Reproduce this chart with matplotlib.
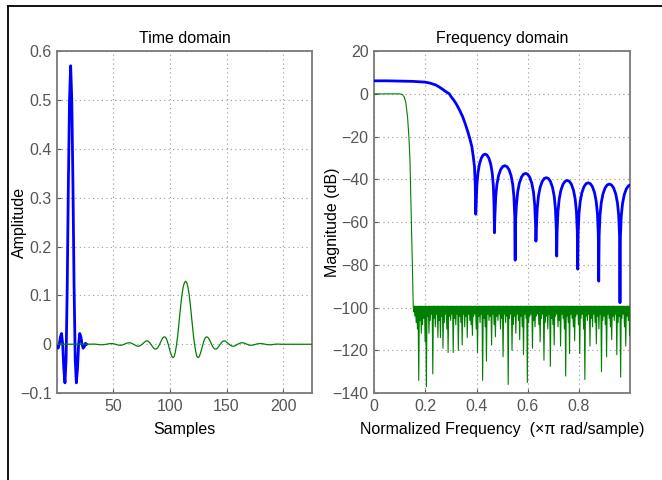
import numpy as np
import matplotlib
matplotlib.use('Agg')
import matplotlib.pyplot as plt
from matplotlib.lines import Line2D

plt.rcParams['font.family'] = ['Liberation Sans', 'DejaVu Sans']

# time domain, filter 1 (blue), samples 1..27
blue_t = [-0.005, -0.008, 0.0, 0.015, 0.022, 0.0, -0.05, -0.079, -0.03, 0.12,
          0.33, 0.50, 0.57, 0.50, 0.33, 0.12, -0.03, -0.079, -0.05, 0.0,
          0.022, 0.015, 0.0, -0.008, -0.005, 0.002, 0.0]

# time domain, filter 2 (green), samples 1..225
green_t = [0.0] * 30 + [
    0.0, 0.0002, 0.0004, 0.0004, 0.0002, 0.0, -0.0004, -0.0008, -0.001, -0.001,
    -0.001, -0.0008, -0.0004, 0.0, 0.0005, 0.001, 0.0013, 0.0015, 0.0015, 0.0013,
    0.0008, 0.0002, -0.0005, -0.0012, -0.0017, -0.002, -0.002, -0.0017, -0.001, 0.0,
    0.001, 0.002, 0.0027, 0.003, 0.003, 0.0025, 0.0015, 0.0003, -0.001, -0.0025,
    -0.0035, -0.004, -0.0038, -0.003, -0.0015, 0.0003, 0.0025, 0.0045, 0.0065, 0.007,
    0.0065, 0.0045, 0.0015, -0.0015, -0.005, -0.008, -0.0098, -0.0098, -0.0085, -0.0055,
    -0.001, 0.004, 0.009, 0.013, 0.015, 0.0148, 0.012, 0.006, -0.002, -0.011,
    -0.019, -0.025, -0.0275, -0.025, -0.016, -0.002, 0.016, 0.038, 0.062, 0.085,
    0.104, 0.118, 0.126, 0.129, 0.126, 0.118, 0.104, 0.085, 0.062, 0.038,
    0.016, -0.002, -0.016, -0.025, -0.0275, -0.025, -0.019, -0.011, -0.002, 0.006,
    0.012, 0.0148, 0.015, 0.013, 0.009, 0.004, -0.001, -0.0055, -0.0085, -0.0098,
    -0.0098, -0.008, -0.005, -0.0015, 0.0015, 0.0045, 0.0065, 0.007, 0.0065, 0.0045,
    0.0025, 0.0003, -0.0015, -0.003, -0.0038, -0.004, -0.0035, -0.0025, -0.001, 0.0003,
    0.0015, 0.0025, 0.003, 0.003, 0.0027, 0.002, 0.001, 0.0, -0.001, -0.0017,
    -0.002, -0.002, -0.0017, -0.0012, -0.0005, 0.0002, 0.0008, 0.0013, 0.0015, 0.0015,
    0.0013, 0.001, 0.0005, 0.0, -0.0004, -0.0008, -0.001, -0.001, -0.001, -0.0008,
    -0.0004, 0.0, 0.0002, 0.0004, 0.0004, 0.0002] + [0.0] * 30

# frequency domain, filter 1 (blue): normalized frequency / dB keypoints
blue_f = [0.0, 0.05, 0.1, 0.15, 0.199, 0.22, 0.242, 0.26, 0.281, 0.294, 0.30, 0.31, 0.32, 0.333, 0.346,
          0.356, 0.366, 0.374, 0.382, 0.387, 0.392, 0.395, 0.397,
          0.3985, 0.4014, 0.4058, 0.4116, 0.4189, 0.4262, 0.4335, 0.4408, 0.4481, 0.4554, 0.4612, 0.4656, 0.4685, 0.470,
          0.4716, 0.4749, 0.4797, 0.4862, 0.4943, 0.5024, 0.5105, 0.5186, 0.5267, 0.5348, 0.5413, 0.5461, 0.5494, 0.551,
          0.5516, 0.5559, 0.5607, 0.5672, 0.5753, 0.5834, 0.5915, 0.5996, 0.6077, 0.6158, 0.6223, 0.6271, 0.6304, 0.632,
          0.6336, 0.6369, 0.6417, 0.6482, 0.6563, 0.6644, 0.6725, 0.6806, 0.6887, 0.6968, 0.7033, 0.7081, 0.7114, 0.713,
          0.7146, 0.7179, 0.7228, 0.7294, 0.7376, 0.7458, 0.754, 0.7622, 0.7704, 0.7786, 0.7852, 0.7901, 0.7934, 0.795,
          0.7966, 0.7999, 0.8048, 0.8114, 0.8196, 0.8278, 0.836, 0.8442, 0.8524, 0.8606, 0.8672, 0.8721, 0.8754, 0.877,
          0.8787, 0.882, 0.887, 0.8936, 0.9019, 0.9102, 0.9185, 0.9268, 0.9351, 0.9434, 0.95, 0.955, 0.9583, 0.960,
          0.9617, 0.965, 0.970, 0.9766, 0.9849, 0.9932, 1.0]
blue_db = [6.1, 6.1, 6.0, 5.85, 5.5, 5.0, 4.1, 2.8, 1.0, 0.0, -1.2, -2.7, -4.5, -7.4, -10.7,
           -14.0, -17.7, -21.0, -24.8, -29.0, -34.0, -42.0, -56.3,
           -52.2, -42.8, -36.9, -32.8, -30.0, -28.6, -28.2, -28.6, -30.0, -32.8, -36.9, -42.8, -52.2, -65.0,
           -57.6, -48.2, -42.3, -38.2, -35.4, -34.0, -33.6, -34.0, -35.4, -38.2, -42.3, -48.2, -57.6, -77.8,
           -61.2, -51.8, -45.9, -41.8, -39.0, -37.6, -37.2, -37.6, -39.0, -41.8, -45.9, -51.8, -61.2, -68.9,
           -63.2, -53.8, -47.9, -43.8, -41.0, -39.6, -39.2, -39.6, -41.0, -43.8, -47.9, -53.8, -63.2, -75.9,
           -64.5, -55.1, -49.2, -45.1, -42.3, -40.9, -40.5, -40.9, -42.3, -45.1, -49.2, -55.1, -64.5, -82.0,
           -65.6, -56.2, -50.3, -46.2, -43.4, -42.0, -41.6, -42.0, -43.4, -46.2, -50.3, -56.2, -65.6, -87.6,
           -66.2, -56.8, -50.9, -46.8, -44.0, -42.6, -42.2, -42.6, -44.0, -46.8, -50.9, -56.8, -66.2, -97.7,
           -66.6, -57.2, -51.3, -47.2, -44.4, -43.0, -42.7]

# frequency domain, filter 2 (green): passband and transition keypoints
green_pass_f = [0.0, 0.05, 0.10, 0.111, 0.118, 0.124, 0.131, 0.136, 0.14, 0.143, 0.146, 0.15, 0.153, 0.155]
green_pass_db = [0.0, 0.0, 0.0, -0.3, -1.5, -4.0, -11.0, -20.0, -30.0, -45.0, -62.0, -82.0, -99.0, -102.0]

# stopband ripple: top level and the dip depth of each ripple (0.157 .. 1.0)
stop_top = -99.3
stop_dips = [
    -104, -107, -110, -134, -106, -112, -108, -105, -116, -137,
    -104, -112, -106, -103, -131, -105, -109, -103, -114, -106,
    -114, -104, -119, -107, -103, -110, -121, -104, -106, -103,
    -121, -105, -108, -103, -120, -104, -107, -117.5, -103, -109,
    -104, -114, -103, -106, -108, -113, -104, -103, -110, -121,
    -104, -107, -103, -134, -105, -109, -125, -103, -106, -104,
    -117.5, -103, -108, -113.6, -104, -106, -103, -110, -105, -123,
    -103, -107, -104, -136, -105, -103, -120, -108, -104, -112,
    -103, -106, -115, -104, -109, -122, -103, -105, -135, -107,
    -104, -103, -119, -106, -109, -104, -103, -108, -116, -105,
    -103, -124.6, -107, -104, -110, -103, -127.5, -105, -108, -117.5,
    -104, -103, -109, -106, -118, -103, -105, -110, -132, -104,
    -107, -121.5, -103, -105, -109, -115.5, -104, -103, -108, -121.5,
    -105, -103, -110, -133.6, -104, -106, -103, -118, -105, -109,
    -103, -107, -117, -104, -110, -103, -130, -106, -104, -108,
    -123, -103, -105, -109, -115, -104, -106, -103, -122, -107,
    -104, -132.5, -105, -103, -109, -118, -104, -106, -113]

tick_col = '#555555'
spine_col = '#7a7a7a'
lab_size = 11.5

fig = plt.figure(figsize=(6.62, 4.80), dpi=100)
ax1 = fig.add_axes([0.0861, 0.181, 0.385, 0.7125])
ax2 = fig.add_axes([0.565, 0.181, 0.387, 0.7125])

# time domain
ax1.plot(np.arange(1, len(blue_t) + 1), blue_t, color='#0000ff', lw=2.0, zorder=3)
ax1.plot(np.arange(1, len(green_t) + 1), green_t, color='#008000', lw=0.9, zorder=4)
ax1.set_xlim(1, 225)
ax1.set_ylim(-0.1, 0.6)
ax1.set_xticks([50, 100, 150, 200])
ax1.set_yticks([-0.1, 0, 0.1, 0.2, 0.3, 0.4, 0.5, 0.6])
ax1.set_yticklabels(['\u22120.1', '0', '0.1', '0.2', '0.3', '0.4', '0.5', '0.6'])
ax1.set_title('Time domain', fontsize=lab_size, pad=6)
ax1.set_xlabel('Samples', fontsize=lab_size, labelpad=6)
ax1.set_ylabel('Amplitude', fontsize=lab_size)
ax1.yaxis.set_label_coords(-0.118, 0.5)

# frequency domain
stop_f = np.linspace(0.157, 1.0, 2 * len(stop_dips) + 1)
stop_db = np.empty(len(stop_f))
stop_db[0::2] = stop_top
stop_db[1::2] = stop_dips
green_f = np.concatenate([green_pass_f, stop_f])
green_db = np.concatenate([green_pass_db, stop_db])

ax2.plot(blue_f, blue_db, color='#0000ff', lw=2.0, zorder=3)
ax2.plot(green_f, green_db, color='#008000', lw=0.8, zorder=4)
ax2.set_xlim(0, 1)
ax2.set_ylim(-140, 20)
ax2.set_xticks([0, 0.2, 0.4, 0.6, 0.8])
ax2.set_xticklabels(['0', '0.2', '0.4', '0.6', '0.8'])
ax2.set_yticks(np.arange(-140, 21, 20))
ax2.set_yticklabels(['\u2212%d' % -v if v < 0 else '%d' % v for v in range(-140, 21, 20)])
ax2.set_title('Frequency domain', fontsize=lab_size, pad=6)
ax2.set_xlabel('Normalized Frequency  (\u00d7\u03c0 rad/sample)', fontsize=lab_size, labelpad=6)
ax2.set_ylabel('Magnitude (dB)', fontsize=lab_size)
ax2.yaxis.set_label_coords(-0.133, 0.5)

for ax in (ax1, ax2):
    ax.grid(True, linestyle=(0, (1, 3)), color='#999999', lw=0.8)
    ax.tick_params(direction='in', length=3, labelsize=11.5, colors=tick_col,
                   labelcolor=tick_col, pad=4)
    for s in ax.spines.values():
        s.set_color(spine_col)
        s.set_linewidth(1.3)

# outer window frame
fig.add_artist(Line2D([7.5 / 662, 1.0], [1 - 5.5 / 480, 1 - 5.5 / 480], color='black', lw=1.3,
                      transform=fig.transFigure))
fig.add_artist(Line2D([7.5 / 662, 7.5 / 662], [0.0, 1 - 5.5 / 480], color='black', lw=1.3,
                      transform=fig.transFigure))

fig.savefig('out.png', dpi=100)
